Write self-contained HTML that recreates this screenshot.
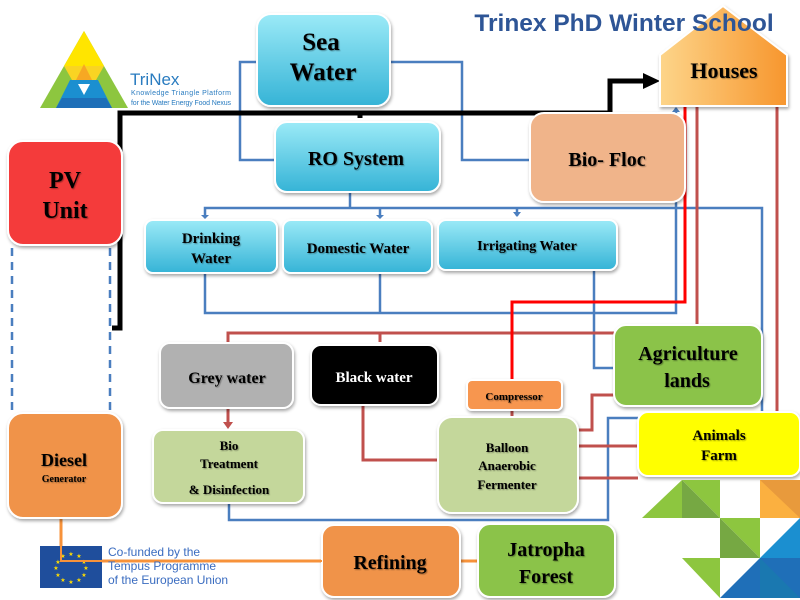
<!DOCTYPE html>
<html><head><meta charset="utf-8"><style>
body{margin:0;width:800px;height:600px;overflow:hidden;background:#fff}
svg{display:block}
.t{font-family:"Liberation Serif",serif;font-weight:bold;fill:#000;text-anchor:middle}
</style></head><body>
<svg width="800" height="600" viewBox="0 0 800 600" xmlns="http://www.w3.org/2000/svg">
<defs>
<linearGradient id="cy" x1="0" y1="0" x2="0" y2="1"><stop offset="0" stop-color="#9beaf7"/><stop offset="1" stop-color="#35b3d6"/></linearGradient>
<linearGradient id="or" x1="0" y1="0" x2="1" y2="0"><stop offset="0" stop-color="#fdd58a"/><stop offset="1" stop-color="#f7962e"/></linearGradient>
<filter id="sh" x="-10%" y="-10%" width="120%" height="130%"><feDropShadow dx="1" dy="2" stdDeviation="1.5" flood-color="#000" flood-opacity="0.35"/></filter>
<filter id="ts"><feDropShadow dx="1" dy="1" stdDeviation="0.6" flood-color="#000" flood-opacity="0.35"/></filter>
</defs>

<!-- logo -->
<polygon points="84,31 40,108 128,108" fill="#8dc63f"/>
<polygon points="84,31 64,66 104,66" fill="#ffe500"/>
<polygon points="64,66 104,66 96,80 72,80" fill="#f9d423"/>
<polygon points="84,64 76,80 92,80" fill="#f7a823"/>
<polygon points="70,80 98,80 112,108 56,108" fill="#1b8fd0"/>
<polygon points="62,98 106,98 112,108 56,108" fill="#1e6fb8"/>
<polygon points="78,84 90,84 84,95" fill="#fff"/>
<text x="130" y="85" font-family="Liberation Sans,sans-serif" font-size="17" fill="#2a7cc0">TriNex</text>
<text x="131" y="95" font-family="Liberation Sans,sans-serif" font-size="7" fill="#2a7cc0" textLength="100">Knowledge Triangle Platform</text>
<text x="131" y="105" font-family="Liberation Sans,sans-serif" font-size="7" fill="#2a7cc0" textLength="100">for the Water Energy Food Nexus</text>

<!-- blue connectors -->
<g fill="none" stroke="#4a7ebf" stroke-width="2.5">
<polyline points="270,62 240,62 240,160 275,160"/>
<polyline points="390,62 462,62 462,160 530,160"/>
<line x1="350" y1="192" x2="350" y2="208"/>
<polyline points="205,216 205,208 762,208 762,412"/>
<line x1="380" y1="208" x2="380" y2="216"/>
<line x1="517" y1="208" x2="517" y2="216"/>
<polyline points="205,273 205,313 676,313 676,108"/>
<line x1="380" y1="273" x2="380" y2="313"/>
<polyline points="594,270 594,368 614,368"/>
<polyline points="229,503 229,520 608,520 608,418 638,418"/>
<line x1="12" y1="248" x2="12" y2="413" stroke-dasharray="8,6"/>
<line x1="110" y1="248" x2="110" y2="413" stroke-dasharray="8,6"/>
</g>
<g fill="#4a7ebf"><path d="M201,215h8l-4,4z"/><path d="M376,215h8l-4,4z"/><path d="M513,212h8l-4,5z"/><path d="M672,112h8l-4,-5z"/></g>

<!-- red connectors -->
<g fill="none" stroke="#c0504d" stroke-width="3">
<polyline points="228,343 228,333 614,333"/>
<line x1="380" y1="333" x2="380" y2="342"/>
<polyline points="697,106 697,325"/>
<line x1="777" y1="106" x2="777" y2="412"/>
<line x1="228" y1="408" x2="228" y2="424"/>
<polyline points="363,405 363,460 438,460"/>
<polyline points="578,430 592,430 592,395 614,395"/>
<line x1="578" y1="446" x2="638" y2="446"/>
<line x1="578" y1="478" x2="638" y2="478"/>
<line x1="512" y1="410" x2="512" y2="417"/>
</g>
<path d="M223,422h10l-5,7z" fill="#c0504d"/>
<polyline points="685,106 685,302 512,302 512,380" fill="none" stroke="#ff0000" stroke-width="3"/>

<!-- black power line -->
<g fill="none" stroke="#000" stroke-width="5">
<polyline points="112,328 120,328 120,113 610,113 610,81 645,81"/>
<line x1="360" y1="113" x2="360" y2="118"/>
</g>
<path d="M643,73L660,81L643,89z" fill="#000"/>

<!-- orange line -->
<polyline points="61,518 61,561 322,561" fill="none" stroke="#f7923a" stroke-width="3"/>
<line x1="460" y1="561" x2="478" y2="561" stroke="#f7923a" stroke-width="3"/>

<!-- boxes -->
<g filter="url(#sh)" stroke="#fff" stroke-width="2">
<rect x="257" y="14" width="133" height="92" rx="14" fill="url(#cy)"/>
<rect x="275" y="122" width="165" height="70" rx="12" fill="url(#cy)"/>
<rect x="530" y="113" width="155" height="89" rx="14" fill="#f0b48a"/>
<polygon points="660,55 723,6 787,55 787,106 660,106" fill="url(#or)"/>
<rect x="8" y="141" width="114" height="104" rx="15" fill="#f43b3b"/>
<rect x="145" y="220" width="132" height="53" rx="8" fill="url(#cy)"/>
<rect x="283" y="220" width="149" height="53" rx="8" fill="url(#cy)"/>
<rect x="438" y="220" width="179" height="50" rx="8" fill="url(#cy)"/>
<rect x="160" y="343" width="133" height="65" rx="10" fill="#b1b1b1"/>
<rect x="311" y="345" width="127" height="60" rx="10" fill="#000"/>
<rect x="467" y="380" width="95" height="30" rx="5" fill="#f7964f"/>
<rect x="614" y="325" width="148" height="81" rx="12" fill="#8bc34a"/>
<rect x="153" y="430" width="151" height="73" rx="10" fill="#c4d79b"/>
<rect x="438" y="417" width="140" height="96" rx="14" fill="#c4d79b"/>
<rect x="638" y="412" width="162" height="64" rx="10" fill="#ffff00"/>
<rect x="8" y="413" width="114" height="105" rx="15" fill="#f0934a"/>
<rect x="322" y="525" width="138" height="72" rx="12" fill="#f0934a"/>
<rect x="478" y="524" width="137" height="73" rx="12" fill="#8bc34a"/>
</g>

<!-- title (drawn over houses) -->
<text x="624" y="31" font-family="Liberation Sans,sans-serif" font-weight="bold" font-size="24.5" fill="#2e5596" text-anchor="middle">Trinex PhD Winter School</text>

<!-- labels -->
<g class="t" filter="url(#ts)">
<text x="321" y="50" font-size="25" class="t">Sea</text>
<text x="323" y="80" font-size="25" class="t">Water</text>
<text x="356" y="165" font-size="20" class="t">RO System</text>
<text x="607" y="166" font-size="20" class="t">Bio- Floc</text>
<text x="724" y="78" font-size="22" class="t">Houses</text>
<text x="65" y="188" font-size="24" class="t">PV</text>
<text x="65" y="218" font-size="24" class="t">Unit</text>
<text x="211" y="243" font-size="15" class="t">Drinking</text>
<text x="211" y="263" font-size="15" class="t">Water</text>
<text x="358" y="253" font-size="15" class="t">Domestic Water</text>
<text x="527" y="250" font-size="14" class="t">Irrigating Water</text>
<text x="227" y="383" font-size="16" class="t">Grey water</text>
<text x="374" y="382" font-size="15" class="t" style="fill:#fff">Black water</text>
<text x="514" y="400" font-size="11" class="t">Compressor</text>
<text x="688" y="360" font-size="20" class="t">Agriculture</text>
<text x="687" y="387" font-size="20" class="t">lands</text>
<text x="229" y="450" font-size="13" class="t">Bio</text>
<text x="229" y="468" font-size="13" class="t">Treatment</text>
<text x="229" y="494" font-size="13" class="t">&amp; Disinfection</text>
<text x="507" y="452" font-size="13" class="t">Balloon</text>
<text x="507" y="470" font-size="13" class="t">Anaerobic</text>
<text x="507" y="489" font-size="13" class="t">Fermenter</text>
<text x="719" y="440" font-size="15" class="t">Animals</text>
<text x="719" y="460" font-size="15" class="t">Farm</text>
<text x="64" y="466" font-size="18" class="t">Diesel</text>
<text x="64" y="482" font-size="10" class="t">Generator</text>
<text x="390" y="569" font-size="20" class="t">Refining</text>
<text x="546" y="556" font-size="20" class="t">Jatropha</text>
<text x="546" y="583" font-size="20" class="t">Forest</text>
</g>

<!-- EU -->
<rect x="40" y="546" width="62" height="42" fill="#1f4e9c"/>
<g fill="#ffdd00" font-size="6" font-family="DejaVu Sans,sans-serif" text-anchor="middle">
<text x="71" y="556">★</text><text x="79" y="558">★</text><text x="84" y="564">★</text><text x="86" y="570">★</text><text x="84" y="577">★</text><text x="79" y="582">★</text><text x="71" y="584">★</text><text x="63" y="582">★</text><text x="58" y="577">★</text><text x="56" y="570">★</text><text x="58" y="564">★</text><text x="63" y="558">★</text>
</g>
<polyline points="61,546 61,561 322,561" fill="none" stroke="#f7923a" stroke-width="2"/>
<g font-family="Liberation Sans,sans-serif" font-size="12" fill="#3a6cc0">
<text x="108" y="556">Co-funded by the</text>
<text x="108" y="570">Tempus Programme</text>
<text x="108" y="584">of the European Union</text>
</g>

<!-- decorative triangles -->
<polygon points="642,518 682,480 682,518" fill="#8dc63f"/>
<polygon points="682,480 720,480 720,518" fill="#8dc63f"/>
<polygon points="682,480 682,518 720,518" fill="#76a843"/>
<polygon points="760,480 800,480 800,518 760,518" fill="#fbb040"/>
<polygon points="760,480 800,480 800,518" fill="#e89a3c"/>
<polygon points="720,518 760,518 760,558" fill="#8dc63f"/>
<polygon points="720,518 720,558 760,558" fill="#76a843"/>
<polygon points="760,558 800,518 800,558" fill="#1b8fd0"/>
<polygon points="682,558 720,558 720,598" fill="#8dc63f"/>
<polygon points="720,598 760,558 760,598" fill="#1f6fb8"/>
<polygon points="760,558 800,558 800,598 760,598" fill="#1f6fb8"/>
<polygon points="760,558 800,598 760,598" fill="#1a78b0"/>
</svg>
</body></html>
